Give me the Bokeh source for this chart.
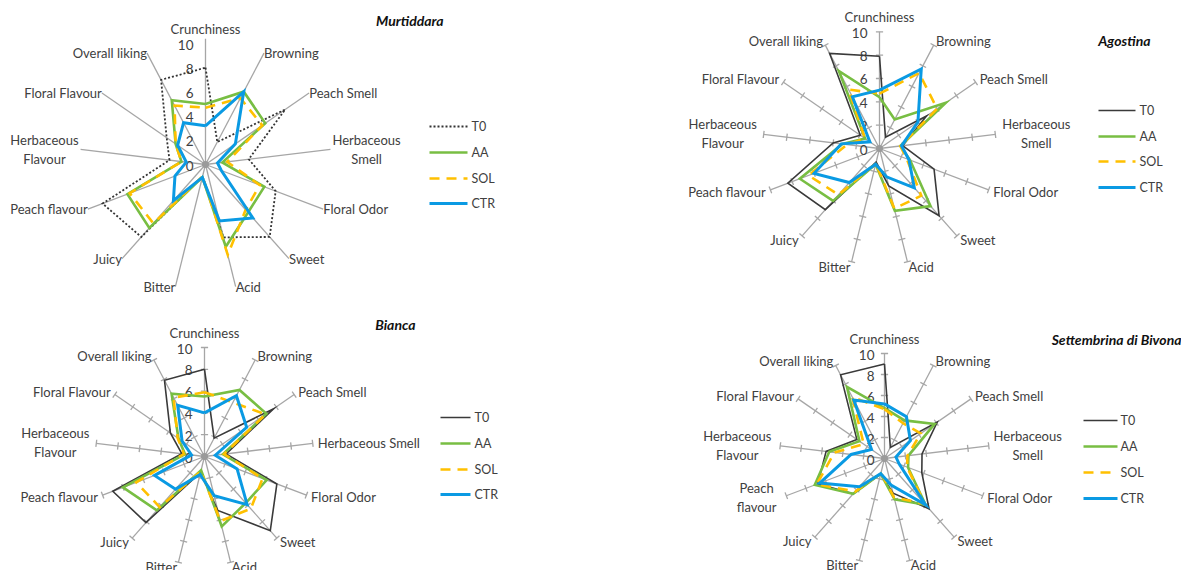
import math

from bokeh.core.properties import value
from bokeh.embed import file_html
from bokeh.layouts import gridplot
from bokeh.models import ColumnDataSource, Range1d
from bokeh.plotting import figure
from bokeh.resources import INLINE

# ---------------------------------------------------------------- data
attributes = ["Crunchiness", "Browning", "Peach Smell", "Herbaceous Smell",
              "Floral Odor", "Sweet", "Acid", "Bitter", "Juicy",
              "Peach flavour", "Herbaceous Flavour", "Floral Flavour",
              "Overall liking"]
treatments = ["T0", "AA", "SOL", "CTR"]
scale_ticks = [0, 2, 4, 6, 8, 10]
scale_max = 10

murtiddara_t0 = [8.0, 2.1, 8.0, 3.6, 6.2, 8.0, 6.2, 1.0, 8.0, 9.1, 3.0, 3.9, 7.9]
murtiddara_aa = [5.0, 6.8, 6.0, 1.4, 5.2, 5.3, 7.0, 1.1, 7.0, 6.9, 2.0, 3.0, 6.0]
murtiddara_sol = [4.7, 6.2, 5.7, 1.8, 4.8, 5.0, 7.7, 1.0, 6.5, 6.7, 2.0, 3.0, 5.5]
murtiddara_ctr = [3.2, 6.8, 3.0, 1.0, 1.4, 5.9, 4.8, 1.1, 4.0, 2.7, 1.6, 2.8, 3.9]

agostina_t0 = [7.9, 1.1, 4.9, 2.0, 5.0, 7.7, 3.3, 1.2, 7.0, 8.4, 4.0, 2.0, 9.2]
agostina_aa = [4.4, 2.8, 6.9, 1.8, 2.8, 6.6, 5.5, 1.4, 6.0, 7.3, 3.2, 1.5, 7.5]
agostina_sol = [4.7, 7.3, 6.0, 1.8, 2.5, 5.4, 5.3, 1.3, 5.3, 6.5, 2.8, 1.5, 5.7]
agostina_ctr = [5.0, 7.7, 4.0, 1.9, 2.7, 4.5, 2.5, 1.4, 3.9, 6.0, 3.3, 1.0, 5.0]

bianca_t0 = [8.0, 1.9, 7.7, 2.0, 7.1, 9.1, 5.1, 1.5, 8.1, 9.0, 2.1, 3.8, 7.9]
bianca_aa = [5.5, 6.9, 6.9, 1.7, 6.1, 5.7, 6.6, 1.3, 6.6, 8.0, 1.8, 2.9, 6.5]
bianca_sol = [5.9, 5.6, 6.8, 1.8, 5.7, 6.4, 6.1, 1.4, 6.2, 6.7, 1.9, 3.0, 6.1]
bianca_ctr = [4.0, 6.3, 4.7, 1.0, 3.2, 5.9, 3.7, 1.7, 4.0, 4.9, 1.2, 2.5, 5.3]

settembrina_t0 = [9.0, 1.2, 6.1, 3.6, 3.8, 6.4, 3.4, 1.5, 4.5, 6.8, 5.6, 3.2, 9.0]
settembrina_aa = [4.8, 4.1, 5.8, 2.3, 2.4, 5.9, 4.0, 1.5, 4.5, 7.1, 5.3, 2.9, 7.7]
settembrina_sol = [4.7, 3.8, 4.2, 2.2, 2.3, 5.8, 3.8, 1.4, 4.2, 6.9, 4.8, 2.4, 6.6]
settembrina_ctr = [5.2, 4.5, 3.0, 1.1, 1.5, 5.9, 2.6, 1.5, 3.6, 6.6, 3.2, 1.5, 6.3]

# ---------------------------------------------------------------- styling
FONT = "Lato"
TEXT_COLOR = "#404040"
AXIS_COLOR = "#a6a6a6"

series_style = {
    "T0": dict(line_color="#3a3a3a", line_width=1.6, line_dash="solid"),
    "AA": dict(line_color="#78be43", line_width=2.6, line_dash="solid"),
    "SOL": dict(line_color="#ffc000", line_width=2.6, line_dash="10 7"),
    "CTR": dict(line_color="#0a9ae3", line_width=3.0, line_dash="solid"),
}

# panel geometry in screen pixels (whole page = 1181 x 570)
panels = [
    dict(title="Murtiddara", series=[murtiddara_t0, murtiddara_aa, murtiddara_sol, murtiddara_ctr],
         ox=0, oy=0, w=590, h=300, cx=205, cy=164, s=12.1, ticks=False, dotted_t0=True,
         title_x=443, title_y=20, leg_x0=429, leg_x1=467, leg_tx=471, leg_y=[126, 152, 178, 203],
         val_dx=-12, spoke_len=10.4,
         multiline={"Herbaceous Smell": ("Herbaceous\nSmell", 36),
                    "Herbaceous Flavour": ("Herbaceous\nFlavour", 36)}),
    dict(title="Agostina", series=[agostina_t0, agostina_aa, agostina_sol, agostina_ctr],
         ox=590, oy=0, w=591, h=300, cx=879, cy=148, s=11.67, ticks=True, dotted_t0=False,
         title_x=1150, title_y=40, leg_x0=1098, leg_x1=1135, leg_tx=1139, leg_y=[110, 136, 161, 187],
         val_dx=-12, spoke_len=10,
         multiline={"Herbaceous Smell": ("Herbaceous\nSmell", 36),
                    "Herbaceous Flavour": ("Herbaceous\nFlavour", 36)}),
    dict(title="Bianca", series=[bianca_t0, bianca_aa, bianca_sol, bianca_ctr],
         ox=0, oy=300, w=590, h=270, cx=204, cy=456, s=10.9, ticks=True, dotted_t0=False,
         title_x=415, title_y=324, leg_x0=440, leg_x1=470, leg_tx=474, leg_y=[417, 443, 469, 494],
         val_dx=-12, spoke_len=10,
         multiline={"Herbaceous Flavour": ("Herbaceous\nFlavour", 36)}),
    dict(title="Settembrina di Bivona", series=[settembrina_t0, settembrina_aa, settembrina_sol, settembrina_ctr],
         ox=590, oy=300, w=591, h=270, cx=884, cy=458, s=10.5, ticks=True, dotted_t0=False,
         title_x=1181, title_y=339, leg_x0=1083, leg_x1=1117, leg_tx=1120, leg_y=[420, 446, 472, 498],
         val_dx=-10, spoke_len=10,
         multiline={"Herbaceous Smell": ("Herbaceous\nSmell", 34),
                    "Herbaceous Flavour": ("Herbaceous\nFlavour", 38),
                    "Peach flavour": ("Peach\nflavour", 25)}),
]

n = len(attributes)
angles = [2 * math.pi * k / n for k in range(n)]   # clockwise from the top


def make_panel(cfg):
    s, cx, cy = cfg["s"], cfg["cx"] - cfg["ox"], cfg["cy"] - cfg["oy"]
    w, h = cfg["w"], cfg["h"]
    p = figure(width=w, height=h,
               x_range=Range1d(-cx / s, (w - cx) / s),
               y_range=Range1d(-(h - cy) / s, cy / s),
               x_axis_location=None, y_axis_location=None,
               toolbar_location=None, output_backend="svg", min_border=0)
    p.grid.visible = False
    p.outline_line_color = None
    p.background_fill_color = "white"
    p.border_fill_color = "white"

    def px(x, y):
        return (x - cfg["cx"]) / s, (cfg["cy"] - y) / s

    # spokes
    sx = [math.sin(a) for a in angles]
    cy_ = [math.cos(a) for a in angles]
    L = cfg["spoke_len"]
    p.segment(x0=[0] * n, y0=[0] * n,
              x1=[L * a for a in sx], y1=[L * b for b in cy_],
              line_color=AXIS_COLOR, line_width=1.3)

    # tick marks along the spokes
    if cfg["ticks"]:
        half = 3.6 / s
        tx0, ty0, tx1, ty1 = [], [], [], []
        for k in range(n):
            for v in scale_ticks[1:]:
                bx, by = v * sx[k], v * cy_[k]
                nx, ny = cy_[k], -sx[k]
                tx0.append(bx - half * nx); ty0.append(by - half * ny)
                tx1.append(bx + half * nx); ty1.append(by + half * ny)
        p.segment(x0=tx0, y0=ty0, x1=tx1, y1=ty1, line_color=AXIS_COLOR, line_width=1.3)

    p.scatter(x=[0], y=[0], size=7, fill_color="#9a9a9a", line_color=None)

    # scale values along the first spoke
    p.text(x=[0] * len(scale_ticks), y=scale_ticks, text=[str(t) for t in scale_ticks],
           text_font=value(FONT), text_font_size="13.5px", text_color=TEXT_COLOR,
           text_align="right", text_baseline="middle", x_offset=cfg["val_dx"], y_offset=1)

    # treatment polygons
    for name, vals in zip(treatments, cfg["series"]):
        xs = [v * math.sin(a) for v, a in zip(vals, angles)]
        ys = [v * math.cos(a) for v, a in zip(vals, angles)]
        src = ColumnDataSource(dict(x=xs + xs[:1], y=ys + ys[:1]))
        style = dict(series_style[name])
        if name == "T0" and cfg["dotted_t0"]:
            style.update(line_color="#333333", line_width=1.8, line_dash="2 2")
        p.line("x", "y", source=src, line_join="miter", **style)

    # attribute labels
    gap = 5
    for k, lab in enumerate(attributes):
        ex, ey = scale_max * sx[k], scale_max * cy_[k]
        txt, hw = cfg["multiline"].get(lab, (lab, 0))
        if k == 0:
            align, base, xo, yo = "center", "bottom", 0, -7
        else:
            align = "left" if sx[k] > 0 else "right"
            base = "middle"
            xo, yo = gap * sx[k], -gap * cy_[k]
            if hw:
                xo += hw if sx[k] > 0 else -hw
                align = "center"
        p.text(x=[ex], y=[ey], text=[txt], text_font=value(FONT), text_font_size="13px",
               text_color=TEXT_COLOR, text_align=align, text_baseline=base,
               x_offset=xo, y_offset=yo, text_line_height=1.2)

    # legend
    for name, ly in zip(treatments, cfg["leg_y"]):
        style = dict(series_style[name])
        if name == "T0" and cfg["dotted_t0"]:
            style.update(line_color="#333333", line_width=1.8, line_dash="2 2")
        (x0, y0), (x1, _) = px(cfg["leg_x0"], ly), px(cfg["leg_x1"], ly)
        p.line([x0, x1], [y0, y0], **style)
        tx, ty = px(cfg["leg_tx"], ly)
        p.text(x=[tx], y=[ty], text=[name], text_font=value(FONT), text_font_size="12.5px",
               text_color=TEXT_COLOR, text_align="left", text_baseline="middle")

    # cultivar name
    tx, ty = px(cfg["title_x"], cfg["title_y"])
    p.text(x=[tx], y=[ty], text=[cfg["title"]], text_font=value(FONT), text_font_size="14px",
           text_font_style="bold italic", text_color="#111111",
           text_align="right", text_baseline="middle")
    return p


figs = [make_panel(c) for c in panels]
grid = gridplot([[figs[0], figs[1]], [figs[2], figs[3]]], toolbar_location=None)

with open("out.html", "w") as f:
    f.write(file_html(grid, INLINE))
